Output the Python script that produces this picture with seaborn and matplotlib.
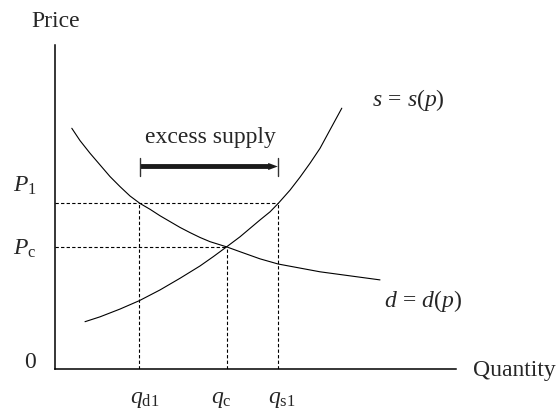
import numpy as np
import pandas as pd
import seaborn as sns
import matplotlib.pyplot as plt

# +-------------------------------------+
#        Data
# +-------------------------------------+
supply_q = [0.75, 1.125, 1.625, 2.11, 2.625, 3.125, 3.625, 3.96, 4.29, 4.625,
            4.875, 5.125, 5.375, 5.58, 5.875, 6.125, 6.375, 6.625, 6.875, 7.17]
supply_p = [1.46, 1.61, 1.85, 2.11, 2.44, 2.80, 3.18, 3.47, 3.77, 4.08,
            4.34, 4.60, 4.85, 5.11, 5.52, 5.92, 6.35, 6.81, 7.38, 8.05]

demand_q = [0.42, 0.625, 0.875, 1.125, 1.375, 1.625, 1.875, 2.125, 2.375, 2.625,
            2.875, 3.125, 3.375, 3.625, 3.875, 4.29, 4.625, 5.125, 5.58, 6.625, 8.125]
demand_p = [7.43, 7.05, 6.66, 6.30, 5.94, 5.63, 5.34, 5.11, 4.93, 4.73,
            4.55, 4.37, 4.21, 4.06, 3.93, 3.77, 3.62, 3.40, 3.24, 3.00, 2.75]

q_marks = [2.10, 4.30, 5.58]          # q_d1, q_c, q_s1
q_labels = [r"$q_{\mathrm{d1}}$", r"$q_{\mathrm{c}}$", r"$q_{\mathrm{s1}}$"]
q_label_x = [2.23, 4.15, 5.66]
p_marks = [5.12, 3.77]                # P_1, P_c
p_labels = [r"$P_1$", r"$P_{\mathrm{c}}$"]
p_label_y = [5.46, 3.52]
p_reach = [5.58, 4.30]                # how far each price line runs

excess_from, excess_to = 2.125, 5.57

sns.set_theme(style="white")
plt.rcParams["font.family"] = ["Liberation Serif", "DejaVu Serif"]
plt.rcParams["mathtext.fontset"] = "custom"
plt.rcParams["mathtext.rm"] = "Liberation Serif"
plt.rcParams["mathtext.it"] = "Liberation Serif:italic"

fig = plt.figure(figsize=(5.59, 4.09), dpi=100)
ax = fig.add_axes([55 / 559, 40 / 409, 401 / 559, 324 / 409])

supply = pd.DataFrame({"q": supply_q, "p": supply_p})
demand = pd.DataFrame({"q": demand_q, "p": demand_p})
sns.lineplot(data=supply, x="q", y="p", sort=False, color="black", lw=0.8, ax=ax)
sns.lineplot(data=demand, x="q", y="p", sort=False, color="black", lw=0.8, ax=ax)

# dashed guide lines
dash = dict(color="black", lw=0.8, ls=(0, (3, 2)))
for p, reach in zip(p_marks, p_reach):
    ax.plot([0, reach], [p, p], **dash)
for q, top in zip(q_marks, [p_marks[0], p_marks[1], p_marks[0]]):
    ax.plot([q, q], [0, top], **dash)

# excess supply arrow
y_arr = 6.25
ax.arrow(excess_from, y_arr, excess_to - excess_from, 0, width=0.15,
         head_width=0.22, head_length=0.24, length_includes_head=True,
         color="#1a1a1a", lw=0)
for xb in [excess_from, excess_to]:
    ax.plot([xb, xb], [5.96, 6.51], color="#333333", lw=1.0)
ax.text((excess_from + excess_to) / 2 + 0.05, 6.98, "excess supply",
        ha="center", va="baseline", fontsize=17)

# curve labels
ax.text(7.93, 8.12, r"$s\,=\,s(p)$", ha="left", va="baseline", fontsize=17)
ax.text(8.22, 1.92, r"$d\,=\,d(p)$", ha="left", va="baseline", fontsize=17)

# axis labels and marks
ax.text(0.025, 10.56, "Price", ha="center", va="baseline", fontsize=17, clip_on=False)
ax.text(10.45, -0.22, "Quantity", ha="left", va="baseline", fontsize=17, clip_on=False)
ax.text(-0.625, 0.03, "0", ha="center", va="baseline", fontsize=17, clip_on=False)
for lab, y in zip(p_labels, p_label_y):
    ax.text(-1.05, y, lab, ha="left", va="baseline", fontsize=17, clip_on=False)
for lab, x in zip(q_labels, q_label_x):
    ax.text(x, -1.04, lab, ha="center", va="baseline", fontsize=17, clip_on=False)

ax.set_xlim(0, 10.025)
ax.set_ylim(0, 10)
ax.set_xticks([])
ax.set_yticks([])
ax.set_xlabel("")
ax.set_ylabel("")
sns.despine(ax=ax)
for side in ["left", "bottom"]:
    ax.spines[side].set_color("black")
    ax.spines[side].set_linewidth(1.1)

fig.savefig("out.png", dpi=100)
